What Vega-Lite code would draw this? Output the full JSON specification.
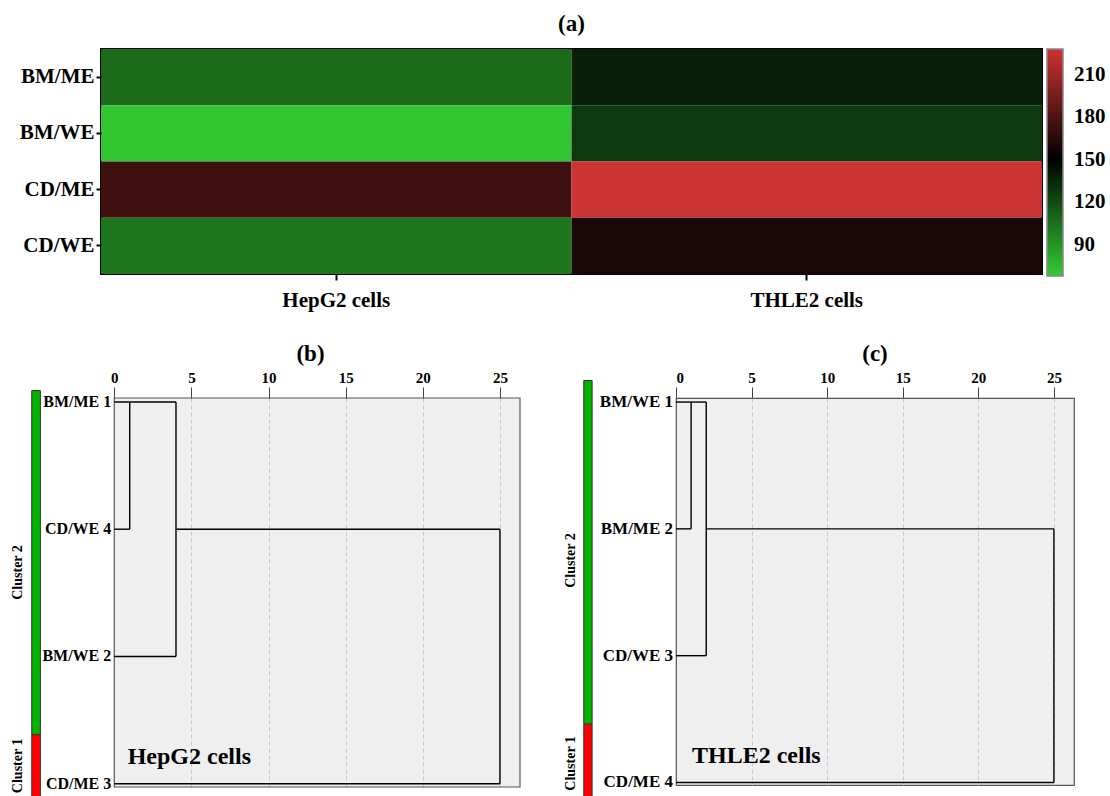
{
  "$schema": "https://vega.github.io/schema/vega-lite/v6.json",
  "padding": {"left": 10, "top": 12, "right": 3, "bottom": 0},
  "background": "white",
  "config": {
    "font": "Liberation Serif",
    "view": {"stroke": null},
    "title": {"fontWeight": "bold", "color": "black"},
    "axis": {"labelFontWeight": "bold", "labelColor": "black"}
  },
  "datasets": {
    "heat": [
      {"cell": "HepG2 cells", "group": "BM/ME", "value": 107},
      {"cell": "HepG2 cells", "group": "BM/WE", "value": 70},
      {"cell": "HepG2 cells", "group": "CD/ME", "value": 174},
      {"cell": "HepG2 cells", "group": "CD/WE", "value": 102},
      {"cell": "THLE2 cells", "group": "BM/ME", "value": 137},
      {"cell": "THLE2 cells", "group": "BM/WE", "value": 127},
      {"cell": "THLE2 cells", "group": "CD/ME", "value": 228},
      {"cell": "THLE2 cells", "group": "CD/WE", "value": 160}
    ],
    "segB": [
      {"x1": 0, "x2": 4, "y1": 1, "y2": 1},
      {"x1": 1, "x2": 1, "y1": 1, "y2": 2},
      {"x1": 0, "x2": 1, "y1": 2, "y2": 2},
      {"x1": 4, "x2": 25, "y1": 2, "y2": 2},
      {"x1": 4, "x2": 4, "y1": 1, "y2": 3},
      {"x1": 0, "x2": 4, "y1": 3, "y2": 3},
      {"x1": 25, "x2": 25, "y1": 2, "y2": 4},
      {"x1": 0, "x2": 25, "y1": 4, "y2": 4}
    ],
    "leafB": [
      {"pos": 1, "label": "BM/ME 1"},
      {"pos": 2, "label": "CD/WE 4"},
      {"pos": 3, "label": "BM/WE 2"},
      {"pos": 4, "label": "CD/ME  3"}
    ],
    "clusB": [
      {"cluster": "Cluster 2", "start": 0.911, "end": 3.616, "mid": 2.34},
      {"cluster": "Cluster 1", "start": 3.616, "end": 4.13, "mid": 3.86}
    ],
    "nameB": [{"name": "HepG2 cells"}],
    "segC": [
      {"x1": 0, "x2": 2, "y1": 1, "y2": 1},
      {"x1": 1, "x2": 1, "y1": 1, "y2": 2},
      {"x1": 0, "x2": 1, "y1": 2, "y2": 2},
      {"x1": 2, "x2": 25, "y1": 2, "y2": 2},
      {"x1": 2, "x2": 2, "y1": 1, "y2": 3},
      {"x1": 0, "x2": 2, "y1": 3, "y2": 3},
      {"x1": 25, "x2": 25, "y1": 2, "y2": 4},
      {"x1": 0, "x2": 25, "y1": 4, "y2": 4}
    ],
    "leafC": [
      {"pos": 1, "label": "BM/WE 1"},
      {"pos": 2, "label": "BM/ME 2"},
      {"pos": 3, "label": "CD/WE 3"},
      {"pos": 4, "label": "CD/ME 4"}
    ],
    "clusC": [
      {"cluster": "Cluster 2", "start": 0.83, "end": 3.54, "mid": 2.25},
      {"cluster": "Cluster 1", "start": 3.54, "end": 4.25, "mid": 3.85}
    ],
    "nameC": [{"name": "THLE2 cells"}]
  },
  "spacing": 31,
  "vconcat": [
    {
      "title": {"text": "(a)", "fontSize": 23, "offset": 13},
      "width": 941,
      "height": 225,
      "data": {"name": "heat"},
      "mark": {"type": "rect"},
      "view": {"stroke": "black", "strokeWidth": 2},
      "encoding": {
        "x": {
          "field": "cell", "type": "nominal", "sort": null,
          "scale": {"paddingInner": 0, "paddingOuter": 0},
          "axis": {"title": null, "labelAngle": 0, "labelFontSize": 21, "domain": false, "tickColor": "black", "tickSize": 6, "tickWidth": 2, "labelPadding": 9}
        },
        "y": {
          "field": "group", "type": "nominal", "sort": null,
          "scale": {"paddingInner": 0, "paddingOuter": 0},
          "axis": {"title": null, "labelFontSize": 21, "domain": false, "tickColor": "black", "tickSize": 5, "tickWidth": 2, "labelPadding": 2}
        },
        "color": {
          "field": "value", "type": "quantitative",
          "scale": {"domain": [68, 150, 228], "range": ["#33cc33", "#000000", "#cc3333"], "interpolate": "rgb"},
          "legend": {"title": null, "gradientLength": 227, "gradientThickness": 16, "labelFontSize": 21, "labelFontWeight": "bold", "labelColor": "black", "values": [90, 120, 150, 180, 210], "offset": 5, "padding": 0, "gradientStrokeColor": "#888888", "gradientStrokeWidth": 1.5, "labelOffset": 11}
        }
      }
    },
    {
      "spacing": 42,
      "hconcat": [
        {
          "title": {"text": "(b)", "fontSize": 23, "offset": 4},
          "width": 419,
          "height": 389,
          "view": {"fill": "#efefef", "stroke": null},
          "layer": [
            {
              "data": {"name": "nameB"},
              "mark": {"type": "rect", "color": "white", "strokeWidth": 0},
              "encoding": {
                "x": {"datum": 0, "type": "quantitative"},
                "x2": {"datum": -0.861},
                "y": {"value": 0},
                "y2": {"value": "height"},
                "detail": {"field": "name", "type": "nominal"}
              }
            },
            {
              "data": {"name": "nameB"},
              "mark": {"type": "rect", "fillOpacity": 0, "stroke": "#555555", "strokeWidth": 1.2},
              "encoding": {
                "x": {"datum": 0, "type": "quantitative"},
                "x2": {"datum": 26.3},
                "y": {"value": 0},
                "y2": {"value": "height"},
                "detail": {"field": "name", "type": "nominal"}
              }
            },
            {
              "data": {"name": "segB"},
              "mark": {"type": "rule", "color": "black", "strokeWidth": 1.4},
              "encoding": {
                "x": {"field": "x1", "type": "quantitative", "scale": {"domain": [-0.861, 26.3], "nice": false, "zero": false},
                  "axis": {"orient": "top", "values": [0, 5, 10, 15, 20, 25], "title": null, "grid": true, "gridDash": [4, 3], "gridColor": "#c8c8c8", "gridOpacity": {"condition": {"test": "datum.value === 0", "value": 0}, "value": 1}, "domain": false, "tickColor": "#444444", "tickSize": 11, "labelFontSize": 15, "labelPadding": 2}},
                "x2": {"field": "x2"},
                "y": {"field": "y1", "type": "quantitative", "scale": {"domain": [0.969, 4.026], "reverse": true, "nice": false, "zero": false}, "axis": null},
                "y2": {"field": "y2"}
              }
            },
            {
              "data": {"name": "leafB"},
              "mark": {"type": "text", "align": "right", "baseline": "middle", "dx": -3, "fontSize": 16, "fontWeight": "bold", "color": "black"},
              "encoding": {
                "x": {"datum": 0, "type": "quantitative"},
                "y": {"field": "pos", "type": "quantitative"},
                "text": {"field": "label"}
              }
            },
            {
              "data": {"name": "nameB"},
              "mark": {"type": "text", "align": "left", "baseline": "middle", "fontSize": 24, "fontWeight": "bold", "color": "black"},
              "encoding": {
                "x": {"datum": 0.87, "type": "quantitative"},
                "y": {"datum": 3.79, "type": "quantitative"},
                "text": {"field": "name"}
              }
            },
            {
              "data": {"name": "clusB"},
              "mark": {"type": "rect", "stroke": "#333333", "strokeWidth": 1},
              "encoding": {
                "x": {"datum": -5.35, "type": "quantitative"},
                "x2": {"datum": -4.79},
                "y": {"field": "start", "type": "quantitative"},
                "y2": {"field": "end"},
                "color": {"field": "cluster", "type": "nominal", "scale": {"domain": ["Cluster 2", "Cluster 1"], "range": ["#00b400", "#ff0000"]}, "legend": null}
              }
            },
            {
              "data": {"name": "clusB"},
              "mark": {"type": "text", "angle": 270, "align": "center", "baseline": "alphabetic", "dy": -10, "fontSize": 14, "fontWeight": "bold", "color": "black"},
              "encoding": {
                "x": {"datum": -5.35, "type": "quantitative"},
                "y": {"field": "mid", "type": "quantitative"},
                "text": {"field": "cluster"}
              }
            }
          ]
        },
        {
          "title": {"text": "(c)", "fontSize": 23, "offset": 4},
          "width": 398,
          "height": 387,
          "view": {"fill": "#efefef", "stroke": "#555555", "strokeWidth": 1.2},
          "layer": [
            {
              "data": {"name": "segC"},
              "mark": {"type": "rule", "color": "black", "strokeWidth": 1.4},
              "encoding": {
                "x": {"field": "x1", "type": "quantitative", "scale": {"domain": [0, 26.33], "nice": false, "zero": false},
                  "axis": {"orient": "top", "values": [0, 5, 10, 15, 20, 25], "title": null, "grid": true, "gridDash": [4, 3], "gridColor": "#c8c8c8", "gridOpacity": {"condition": {"test": "datum.value === 0", "value": 0}, "value": 1}, "domain": false, "tickColor": "#444444", "tickSize": 11, "labelFontSize": 15, "labelPadding": 2}},
                "x2": {"field": "x2"},
                "y": {"field": "y1", "type": "quantitative", "scale": {"domain": [0.968, 4.02], "reverse": true, "nice": false, "zero": false}, "axis": null},
                "y2": {"field": "y2"}
              }
            },
            {
              "data": {"name": "leafC"},
              "mark": {"type": "text", "align": "right", "baseline": "middle", "dx": -3, "fontSize": 17, "fontWeight": "bold", "color": "black"},
              "encoding": {
                "x": {"datum": 0, "type": "quantitative"},
                "y": {"field": "pos", "type": "quantitative"},
                "text": {"field": "label"}
              }
            },
            {
              "data": {"name": "nameC"},
              "mark": {"type": "text", "align": "left", "baseline": "middle", "fontSize": 24, "fontWeight": "bold", "color": "black"},
              "encoding": {
                "x": {"datum": 1.06, "type": "quantitative"},
                "y": {"datum": 3.79, "type": "quantitative"},
                "text": {"field": "name"}
              }
            },
            {
              "data": {"name": "clusC"},
              "mark": {"type": "rect", "stroke": "#333333", "strokeWidth": 1},
              "encoding": {
                "x": {"datum": -6.1, "type": "quantitative"},
                "x2": {"datum": -5.55},
                "y": {"field": "start", "type": "quantitative"},
                "y2": {"field": "end"},
                "color": {"field": "cluster", "type": "nominal", "scale": {"domain": ["Cluster 2", "Cluster 1"], "range": ["#00b400", "#ff0000"]}, "legend": null}
              }
            },
            {
              "data": {"name": "clusC"},
              "mark": {"type": "text", "angle": 270, "align": "center", "baseline": "alphabetic", "dy": -9, "fontSize": 14, "fontWeight": "bold", "color": "black"},
              "encoding": {
                "x": {"datum": -6.1, "type": "quantitative"},
                "y": {"field": "mid", "type": "quantitative"},
                "text": {"field": "cluster"}
              }
            }
          ]
        }
      ]
    }
  ]
}
